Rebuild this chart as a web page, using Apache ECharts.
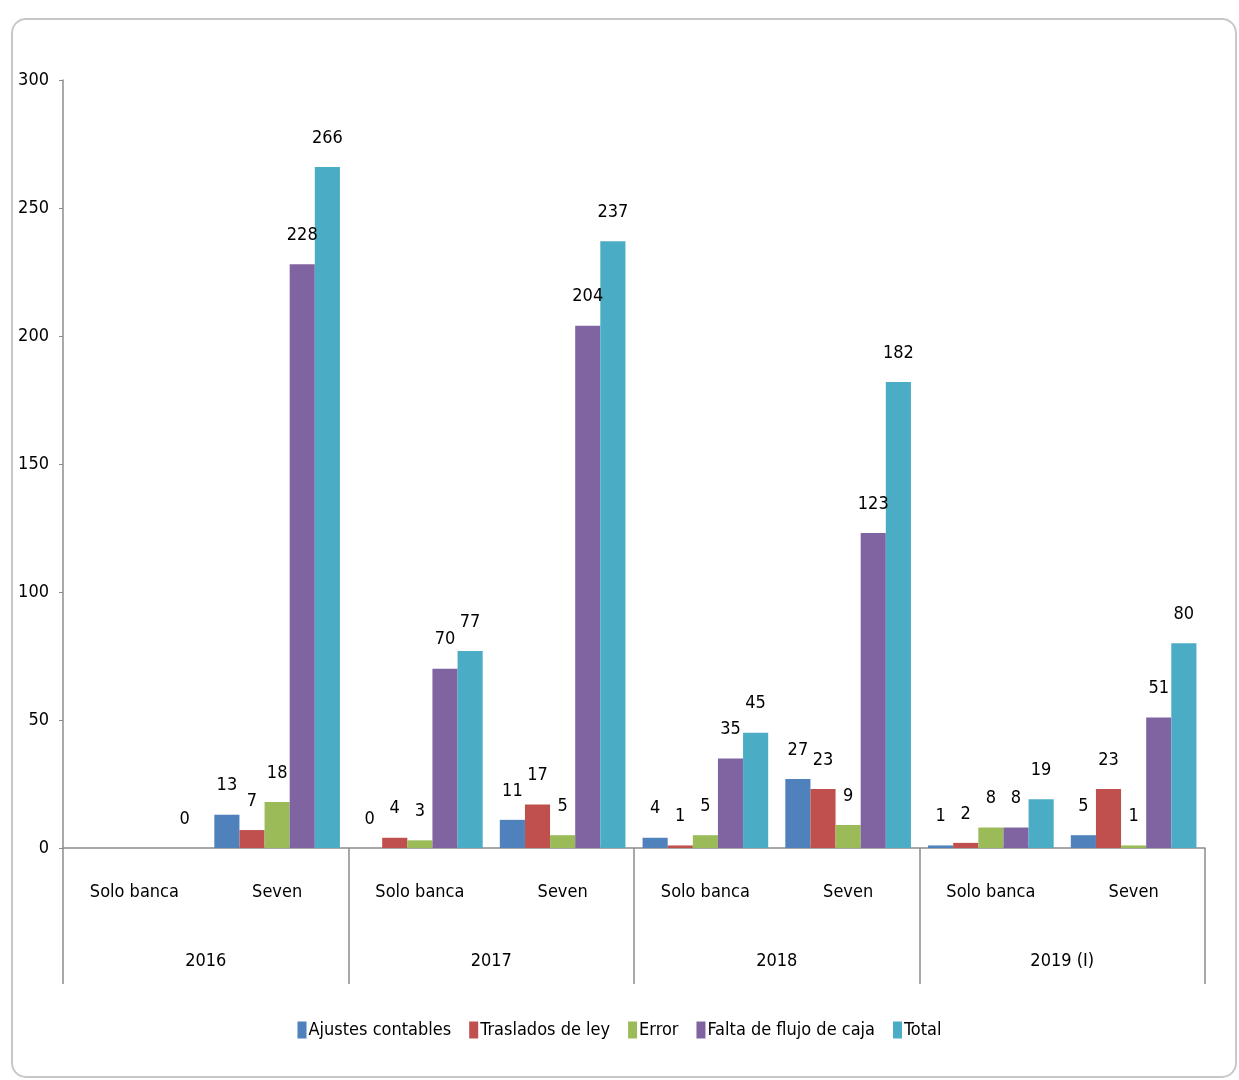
<!DOCTYPE html>
<html>
<head>
<meta charset="utf-8">
<script src="https://cdn.jsdelivr.net/npm/echarts@6/dist/echarts.min.js"></script>
<style>
  html, body { margin: 0; padding: 0; background: #fff; }
  #chart { width: 1239px; height: 1080px; }
</style>
</head>
<body>
<div id="chart"></div>
<script>
// categorías (dos niveles)
const subCats = ['Solo banca', 'Seven', 'Solo banca', 'Seven', 'Solo banca', 'Seven', 'Solo banca', 'Seven'];
const years = ['2016', '2017', '2018', '2019 (I)'];

// valores por serie
const ajustes = [null, 13, 0, 11, 4, 27, 1, 5];
const traslados = [null, 7, 4, 17, 1, 23, 2, 23];
const errores = [null, 18, 3, 5, 5, 9, 8, 1];
const faltaFlujo = [null, 228, 70, 204, 35, 123, 8, 51];
const total = [0, 266, 77, 237, 45, 182, 19, 80];

const font = "'Liberation Sans Narrow', 'DejaVu Sans Condensed', sans-serif";
const fs = 18;

const chart = echarts.init(document.getElementById('chart'));

function barSeries(name, data, color) {
  return {
    name: name,
    type: 'bar',
    xAxisIndex: 0,
    data: data,
    barGap: 0,
    barCategoryGap: '12%',
    itemStyle: { color: color },
    label: {
      show: true,
      position: 'top',
      distance: 20,
      color: '#000',
      fontSize: fs,
      fontFamily: font
    }
  };
}

chart.setOption({
  animation: false,
  color: ['#4F81BD', '#C0504D', '#9BBB59', '#8064A2', '#4BACC6'],
  graphic: [
    {
      type: 'rect',
      shape: { x: 12, y: 19, width: 1224, height: 1058, r: 14 },
      style: { fill: 'none', stroke: '#c8c8c8', lineWidth: 2 },
      silent: true
    }
  ],
  grid: { left: 63, right: 34, top: 80, bottom: 232 },
  legend: {
    bottom: 36,
    left: 'center',
    itemWidth: 9,
    itemHeight: 17,
    itemGap: 18,
    icon: 'rect',
    textStyle: { fontSize: fs, fontFamily: font, color: '#000', padding: [0, 0, 0, -3] }
  },
  xAxis: [
    {
      type: 'category',
      data: subCats,
      axisLine: { lineStyle: { color: '#8c8c8c', width: 1.5 } },
      axisTick: { show: false },
      axisLabel: { interval: 0, margin: 35, fontSize: fs, fontFamily: font, color: '#000' }
    },
    {
      type: 'category',
      data: years,
      position: 'bottom',
      axisLine: { show: false },
      axisTick: { show: true, interval: 0, length: 136, lineStyle: { color: '#8c8c8c', width: 1.5 } },
      axisLabel: { interval: 0, margin: 104, fontSize: fs, fontFamily: font, color: '#000' }
    }
  ],
  yAxis: {
    type: 'value',
    min: 0,
    max: 300,
    interval: 50,
    axisLine: { show: true, lineStyle: { color: '#8c8c8c', width: 1.5 } },
    axisTick: { show: true, length: 4, lineStyle: { color: '#8c8c8c' } },
    splitLine: { show: false },
    axisLabel: { margin: 14, fontSize: fs, fontFamily: font, color: '#000' }
  },
  series: [
    barSeries('Ajustes contables', ajustes, '#4F81BD'),
    barSeries('Traslados de ley', traslados, '#C0504D'),
    barSeries('Error', errores, '#9BBB59'),
    barSeries('Falta de flujo de caja', faltaFlujo, '#8064A2'),
    barSeries('Total', total, '#4BACC6')
  ]
});
</script>
</body>
</html>
